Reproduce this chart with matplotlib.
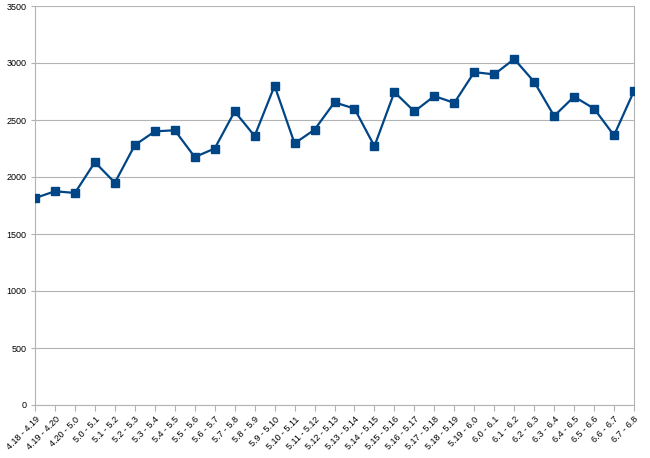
import matplotlib
matplotlib.use("Agg")
import matplotlib.pyplot as plt

plt.rcParams['font.family'] = ['Liberation Sans', 'DejaVu Sans']

labels = ["4.18 - 4.19", "4.19 - 4.20", "4.20 - 5.0"] + \
         ["5.%d - 5.%d" % (i, i + 1) for i in range(19)] + \
         ["5.19 - 6.0"] + \
         ["6.%d - 6.%d" % (i, i + 1) for i in range(8)]

values = [1815, 1875, 1860, 2130, 1950, 2280, 2400, 2410, 2175, 2250,
          2575, 2360, 2800, 2295, 2415, 2655, 2600, 2270, 2745, 2575,
          2710, 2650, 2920, 2900, 3035, 2835, 2535, 2705, 2600, 2365,
          2755]

yticks = [0, 500, 1000, 1500, 2000, 2500, 3000, 3500]

fig = plt.figure(figsize=(6.5, 4.58), dpi=100)
ax = fig.add_axes([35/650, 1 - 405/458, (634-35)/650, (405-6)/458])

x = list(range(len(values)))
ax.plot(x, values, color="#004586", linewidth=1.6, marker="s", markersize=5.5, zorder=3)

ax.set_xlim(0, len(values) - 1)
ax.set_ylim(0, 3500)
ax.set_yticks(yticks)
ax.set_yticklabels([str(v) for v in yticks], fontsize=6.5)
ax.set_xticks(x)
ax.set_xticklabels(labels, rotation=45, ha="right", rotation_mode="anchor", fontsize=6.5)
ax.yaxis.grid(True, color="#b3b3b3", linewidth=0.8)
ax.set_axisbelow(True)
for s in ["left", "bottom", "right"]:
    ax.spines[s].set_color("#b3b3b3")
    ax.spines[s].set_linewidth(0.8)
ax.spines["top"].set_visible(False)
ax.tick_params(axis="x", length=4, color="#b3b3b3", pad=3)
ax.tick_params(axis="y", length=3, color="#b3b3b3", pad=3)

fig.savefig("out.png", dpi=100)
